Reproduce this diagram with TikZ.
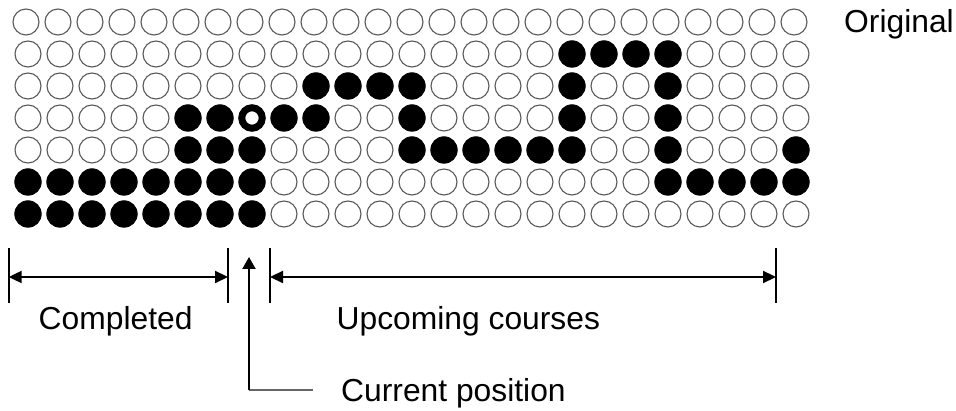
\documentclass[tikz,border=0pt]{standalone}
\usepackage{fontspec}
\setmainfont{Liberation Sans}
\usetikzlibrary{arrows.meta}
\begin{document}
\begin{tikzpicture}[x=1pt,y=-1pt,
  hole/.style={circle,draw=black!65,line width=1.1pt,fill=white,minimum size=26pt,inner sep=0pt},
  peg/.style={circle,draw=black,fill=black,line width=0.8pt,minimum size=26.5pt,inner sep=0pt},
  ring/.style={circle,draw=black,fill=white,line width=7pt,minimum size=20.5pt,inner sep=0pt},
  txt/.style={inner sep=0pt,font=\fontsize{31.8}{38}\selectfont,anchor=base west},
  tick/.style={line width=2pt},
  dim/.style={line width=2.2pt,{Triangle[length=13pt,width=12pt]}-{Triangle[length=13pt,width=12pt]}},
  uparrow/.style={line width=2.2pt,-{Triangle[length=12pt,width=13pt]}},
  lead/.style={line width=1.5pt,draw=black!60}]
\useasboundingbox (0,0) rectangle (956,411);
\foreach \r/\pat in {
  0/{0,0,0,0,0,0,0,0,0,0,0,0,0,0,0,0,0,0,0,0,0,0,0,0,0},
  1/{0,0,0,0,0,0,0,0,0,0,0,0,0,0,0,0,0,1,1,1,1,0,0,0,0},
  2/{0,0,0,0,0,0,0,0,0,1,1,1,1,0,0,0,0,1,0,0,1,0,0,0,0},
  3/{0,0,0,0,0,1,1,2,1,1,0,0,1,0,0,0,0,1,0,0,1,0,0,0,0},
  4/{0,0,0,0,0,1,1,1,0,0,0,0,1,1,1,1,1,1,0,0,1,0,0,0,1},
  5/{1,1,1,1,1,1,1,1,0,0,0,0,0,0,0,0,0,0,0,0,1,1,1,1,1},
  6/{1,1,1,1,1,1,1,1,0,0,0,0,0,0,0,0,0,0,0,0,0,0,0,0,0}}{
  \foreach \v [count=\c from 0] in \pat {
    \pgfmathsetmacro\xx{(\r==0?26:28)+32*\c}
    \pgfmathsetmacro\yy{22+32*\r}
    \ifcase\v
      \node[hole] (c\r-\c) at (\xx,\yy) {};
    \or
      \node[peg] (c\r-\c) at (\xx,\yy) {};
    \or
      \node[ring] (c\r-\c) at (\xx,\yy) {};
    \fi
  }
}
\node[txt] (orig) at (844,33) {Original};
% completed dimension
\coordinate (aT) at (8.7,248); \coordinate (aB) at (8.7,303);
\coordinate (bT) at (228,248); \coordinate (bB) at (228,303);
\coordinate (aM) at (8.7,277); \coordinate (bM) at (228,277);
\draw[tick] (aT) -- (aB);
\draw[tick] (bT) -- (bB);
\draw[dim] (aM) -- (bM);
% upcoming dimension
\coordinate (cT) at (270,248); \coordinate (cB) at (270,303);
\coordinate (dT) at (776,248); \coordinate (dB) at (776,303);
\coordinate (cM) at (270,277); \coordinate (dM) at (776,277);
\draw[tick] (cT) -- (cB);
\draw[tick] (dT) -- (dB);
\draw[dim] (cM) -- (dM);
% current position
\coordinate (pB) at (249,390); \coordinate (pT) at (249,257);
\coordinate (pE) at (313,390);
\draw[lead] (pB) -- (pE);
\draw[uparrow] (pB) -- (pT);
\node[txt] (compl) at (38.5,330) {Completed};
\node[txt] (upc) at (336.5,330) {Upcoming courses};
\node[txt] (cur) at (341,402) {Current position};
\end{tikzpicture}
\end{document}
